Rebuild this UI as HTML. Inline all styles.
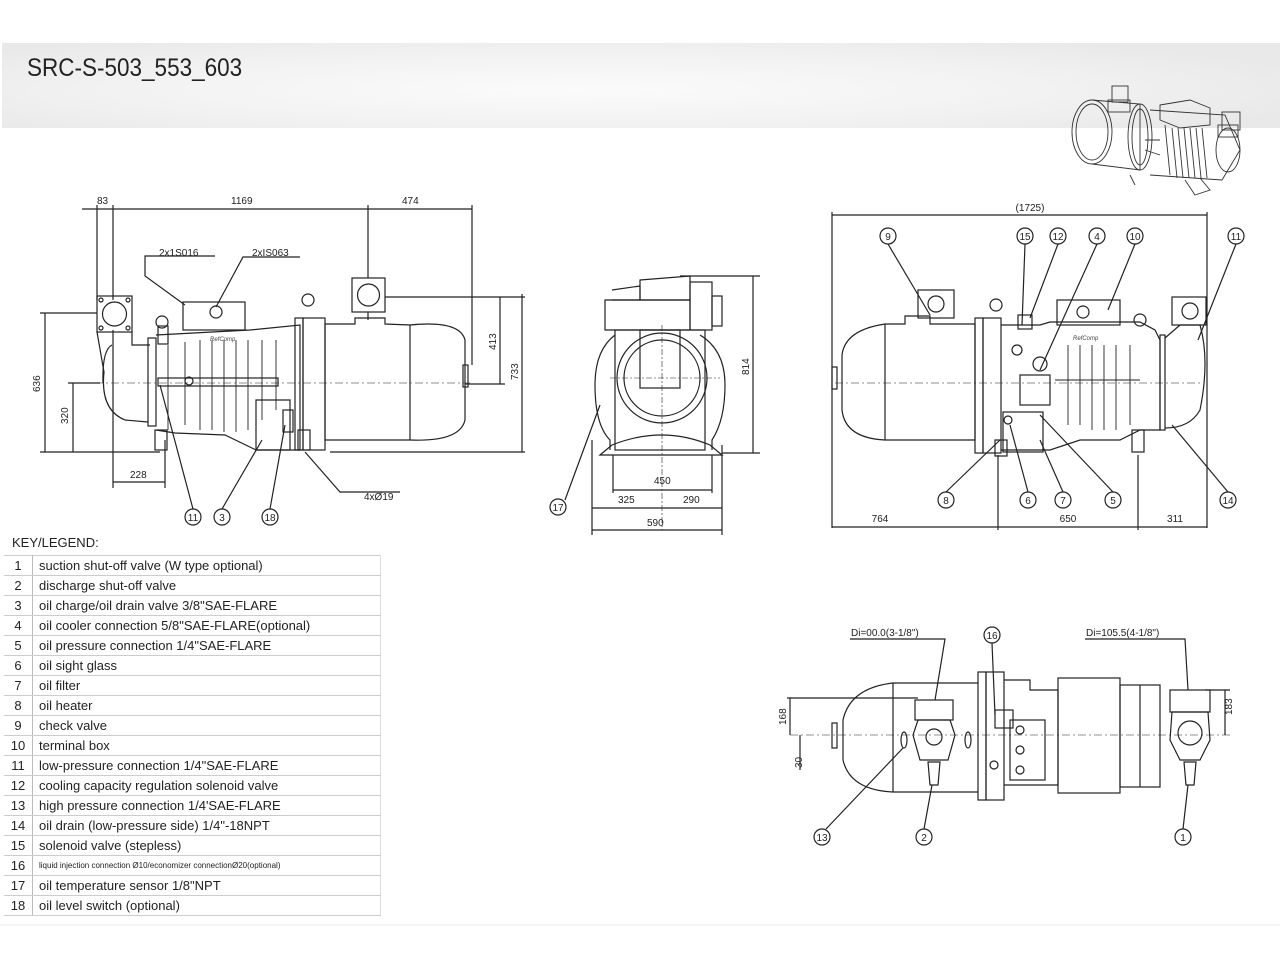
<!DOCTYPE html>
<html><head><meta charset="utf-8"><style>
html,body{margin:0;padding:0;background:#fff;}
body{width:1280px;height:960px;overflow:hidden;position:relative;font-family:"Liberation Sans",sans-serif;}
.band{position:absolute;left:2px;top:43px;width:1278px;height:85px;background:radial-gradient(ellipse 60% 70% at 45% 55%,#fbfbfb 0%,#f2f2f2 60%,#e9e9e9 100%);}
.title{position:absolute;left:27px;top:54px;font-size:25px;color:#222;font-family:"Liberation Sans Narrow","Liberation Sans",sans-serif;transform:scaleX(0.9);transform-origin:left;}
svg{position:absolute;left:0;top:0;}
.legend{position:absolute;left:4px;top:533px;}
.legend .hd{font-size:13px;color:#222;margin-left:8px;height:22px;line-height:20px;}
table{border-collapse:collapse;font-size:13px;color:#222;}
td{border-top:1px solid #ccc;border-bottom:1px solid #ccc;height:19px;padding:0;line-height:19px;}
td.n{width:28px;text-align:center;border-right:1px solid #bbb;}
td.t{width:341px;padding-left:6px;border-right:1px solid #ddd;}
</style></head><body>
<div class="band"></div>
<div class="title">SRC-S-503_553_603</div>

<svg width="1280" height="960" viewBox="0 0 1280 960" font-family="Liberation Sans, sans-serif" font-size="10" fill="none" stroke="#222" stroke-width="1.2">
<!-- photo top right -->
<g stroke="#333" stroke-width="0.9">
<ellipse cx="1092" cy="132" rx="20" ry="32"/>
<ellipse cx="1092" cy="132" rx="16" ry="28"/>
<path d="M1092 100 L1140 104 L1140 170 L1092 164"/>
<ellipse cx="1140" cy="137" rx="12" ry="33"/>
<ellipse cx="1140" cy="137" rx="8" ry="28"/>
<path d="M1150 110 L1225 115 L1240 150 L1222 180 L1150 175"/>
<path d="M1160 105 L1190 100 L1210 108 L1210 125 L1180 128 L1160 120 Z"/>
<path d="M1165 125 L1170 175 M1172 128 L1177 178 M1178 128 L1183 178 M1184 128 L1189 178 M1190 128 L1195 178 M1196 128 L1201 178 M1202 128 L1207 178"/>
<ellipse cx="1228" cy="150" rx="12" ry="22"/>
<rect x="1112" y="86" width="16" height="16"/><rect x="1108" y="100" width="22" height="12"/>
<rect x="1222" y="112" width="18" height="18"/><rect x="1218" y="125" width="20" height="12"/>
<path d="M1185 180 L1195 195 L1210 190 L1200 178 M1130 175 L1135 185 M1145 140 L1160 140 M1145 150 L1160 155"/>
</g>

<!-- ===== VIEW 1 ===== -->
<g>
<line x1="82" y1="209" x2="472" y2="209"/>
<line x1="97" y1="205" x2="97" y2="300"/><line x1="113" y1="205" x2="113" y2="300"/>
<line x1="368" y1="205" x2="368" y2="278"/><line x1="472" y1="205" x2="472" y2="365"/>
<line x1="113" y1="330" x2="113" y2="488"/>
<line x1="165" y1="440" x2="165" y2="488"/><line x1="113" y1="482" x2="165" y2="482"/>
<line x1="45" y1="313" x2="45" y2="452"/><line x1="40" y1="313" x2="97" y2="313"/>
<line x1="40" y1="452" x2="160" y2="452"/>
<line x1="73" y1="383" x2="73" y2="452"/><line x1="68" y1="383" x2="100" y2="383"/>
<line x1="500" y1="297" x2="500" y2="384"/><line x1="522" y1="294" x2="522" y2="452"/>
<line x1="385" y1="297" x2="525" y2="297"/><line x1="465" y1="384" x2="505" y2="384"/>
<line x1="330" y1="452" x2="525" y2="452"/>
<line x1="95" y1="383" x2="470" y2="383" stroke-dasharray="8 3 2 3" stroke-width="0.6"/>
<rect x="97" y="296" width="35" height="36"/><circle cx="114.5" cy="314" r="12"/>
<circle cx="101" cy="300" r="2"/><circle cx="128" cy="300" r="2"/><circle cx="101" cy="328" r="2"/><circle cx="128" cy="328" r="2"/>
<path d="M97 332 L104 372 Q100 410 125 420 L148 422"/>
<path d="M132 332 L132 345 L150 345"/>
<path d="M112 345 Q102 350 103 383"/>
<rect x="148" y="338" width="8" height="88"/>
<path d="M156 335 L250 330 L300 325 L300 450 L256 450 L225 435 L175 433 L156 430"/>
<g stroke-width="0.9">
<line x1="185" y1="342" x2="185" y2="425"/><line x1="200" y1="340" x2="200" y2="430"/><line x1="212" y1="340" x2="212" y2="430"/><line x1="224" y1="340" x2="224" y2="432"/><line x1="236" y1="340" x2="236" y2="432"/><line x1="248" y1="340" x2="248" y2="430"/><line x1="262" y1="340" x2="262" y2="420"/><line x1="276" y1="340" x2="276" y2="410"/>
<line x1="168" y1="345" x2="168" y2="430"/>
</g>
<rect x="158" y="378" width="120" height="8"/><circle cx="189" cy="381" r="4"/>
<rect x="183" y="302" width="62" height="28"/><circle cx="216" cy="312" r="6"/>
<text x="210" y="341" font-size="6" fill="#444" stroke="none" font-style="italic">RefComp</text>
<circle cx="162" cy="322" r="6"/><circle cx="308" cy="300" r="6"/>
<rect x="158" y="326" width="10" height="18"/>
<rect x="155" y="430" width="12" height="20"/>
<path d="M256 400 L290 400 L290 450 L256 450 Z"/><rect x="283" y="410" width="10" height="22"/>
<rect x="295" y="318" width="8" height="132"/><rect x="303" y="318" width="22" height="132"/>
<rect x="298" y="430" width="12" height="20"/>
<path d="M325 324 L355 324 L355 318 L385 318 L385 324 L410 325 Q460 320 465 340 L465 420 Q460 442 410 440 L325 440 Z"/>
<line x1="410" y1="325" x2="410" y2="440"/>
<rect x="463" y="365" width="5" height="22"/>
<rect x="352" y="278" width="33" height="34"/><circle cx="368.5" cy="295" r="11"/>
<line x1="368" y1="312" x2="368" y2="320"/>
<g fill="#222" stroke="none" font-size="10">
<text x="97" y="204">83</text><text x="231" y="204">1169</text><text x="402" y="204">474</text>
<text x="130" y="478">228</text>
<text x="159" y="256">2x1S016</text><text x="252" y="256">2xIS063</text>
<text x="364" y="500">4xØ19</text>
<text transform="translate(40,392) rotate(-90)">636</text>
<text transform="translate(68,424) rotate(-90)">320</text>
<text transform="translate(496,350) rotate(-90)">413</text>
<text transform="translate(518,380) rotate(-90)">733</text>
</g>
<path d="M215 256 L145 256 L145 276 L185 305"/>
<path d="M300 257 L243 257 L216 307"/>
<path d="M160 385 L193 509"/><path d="M262 440 L222 509"/><path d="M285 425 L270 509"/>
<path d="M305 452 L340 492 L400 492"/>
<circle cx="193" cy="517" r="8"/><circle cx="222" cy="517" r="8"/><circle cx="270" cy="517" r="8"/>
<g fill="#222" stroke="none" font-size="10" text-anchor="middle">
<text x="193" y="521">11</text><text x="222" y="521">3</text><text x="270" y="521">18</text></g>
</g>

<!-- ===== VIEW 2 ===== -->
<g>
<path d="M615 335 Q595 350 595 385 Q595 425 610 440 L610 450 M700 335 Q725 350 725 385 Q725 420 712 440 L712 450"/>
<rect x="615" y="330" width="90" height="120"/>
<circle cx="662" cy="378" r="45"/><circle cx="662" cy="378" r="38"/>
<path d="M600 455 L612 445 Q662 425 710 445 L722 455 Z"/>
<rect x="640" y="330" width="40" height="58"/>
<path d="M605 300 L690 300 L690 330 L605 330 Z"/><path d="M640 280 L690 276 L690 300 L640 300 Z"/>
<rect x="690" y="282" width="22" height="48"/><rect x="712" y="296" width="10" height="30"/>
<path d="M612 290 L640 286 L640 300 L612 300"/>
<line x1="662" y1="325" x2="662" y2="530" stroke-dasharray="6 2 2 2" stroke-width="0.6"/>
<line x1="610" y1="378" x2="720" y2="378" stroke-dasharray="6 2 2 2" stroke-width="0.6"/>
<line x1="680" y1="276" x2="760" y2="276"/><line x1="722" y1="453" x2="760" y2="453"/>
<line x1="753" y1="276" x2="753" y2="453"/>
<line x1="613" y1="455" x2="613" y2="493"/><line x1="712" y1="455" x2="712" y2="493"/>
<line x1="613" y1="490" x2="712" y2="490"/>
<line x1="592" y1="440" x2="592" y2="535"/><line x1="722" y1="445" x2="722" y2="535"/>
<line x1="592" y1="508" x2="722" y2="508"/><line x1="592" y1="530" x2="722" y2="530"/>
<path d="M600 405 L565 500"/><circle cx="558" cy="507" r="8"/>
<g fill="#222" stroke="none" font-size="10">
<text x="654" y="484">450</text><text x="618" y="503">325</text><text x="683" y="503">290</text><text x="647" y="526">590</text>
<text transform="translate(749,375) rotate(-90)">814</text>
<text x="558" y="511" text-anchor="middle">17</text></g>
</g>

<!-- ===== VIEW 3 ===== -->
<g>
<line x1="832" y1="215" x2="1207" y2="215"/>
<line x1="832" y1="212" x2="832" y2="528"/><line x1="1207" y1="212" x2="1207" y2="528"/>
<line x1="832" y1="527" x2="1207" y2="527"/>
<line x1="998" y1="455" x2="998" y2="530"/><line x1="1138" y1="455" x2="1138" y2="530"/>
<line x1="835" y1="383" x2="1200" y2="383" stroke-dasharray="8 3 2 3" stroke-width="0.6"/>
<path d="M975 324 L930 324 L930 316 L905 316 L905 324 L885 324 Q845 330 842 355 L842 410 Q845 438 885 440 L975 440 Z"/>
<line x1="885" y1="324" x2="885" y2="440"/>
<rect x="832" y="367" width="5" height="22"/>
<rect x="918" y="290" width="36" height="28"/><circle cx="936" cy="304" r="8"/>
<rect x="975" y="318" width="8" height="135"/><rect x="983" y="318" width="18" height="135"/>
<circle cx="996" cy="305" r="6"/>
<rect x="995" y="440" width="12" height="16"/>
<path d="M1001 325 L1040 325 L1050 322 L1140 322 L1155 330 L1160 340 L1160 430 L1140 430 L1120 440 L1080 440 L1050 450 L1001 450"/>
<rect x="1057" y="300" width="63" height="25"/><circle cx="1083" cy="312" r="6"/>
<text x="1073" y="340" font-size="6" fill="#444" stroke="none" font-style="italic">RefComp</text>
<g stroke-width="0.9"><line x1="1068" y1="345" x2="1068" y2="425"/><line x1="1080" y1="345" x2="1080" y2="425"/><line x1="1092" y1="345" x2="1092" y2="430"/><line x1="1104" y1="345" x2="1104" y2="430"/><line x1="1116" y1="345" x2="1116" y2="430"/><line x1="1130" y1="345" x2="1130" y2="425"/><line x1="1055" y1="380" x2="1140" y2="380"/></g>
<rect x="1020" y="375" width="30" height="30"/><rect x="1003" y="412" width="40" height="40"/>
<circle cx="1008" cy="420" r="4"/><circle cx="1040" cy="364" r="7"/><circle cx="1017" cy="350" r="5"/>
<rect x="1018" y="315" width="14" height="14"/>
<circle cx="1140" cy="320" r="6"/>
<rect x="1160" y="335" width="5" height="95"/>
<path d="M1165 338 L1180 325 L1200 325 Q1210 360 1200 410 Q1190 428 1165 428"/>
<rect x="1172" y="297" width="34" height="28"/><circle cx="1190" cy="311" r="8"/>
<rect x="1132" y="430" width="12" height="22"/>
<g>
<circle cx="888" cy="236" r="8"/><circle cx="1025" cy="236" r="8"/><circle cx="1058" cy="236" r="8"/><circle cx="1097" cy="236" r="8"/><circle cx="1135" cy="236" r="8"/><circle cx="1236" cy="236" r="8"/>
<circle cx="946" cy="500" r="8"/><circle cx="1028" cy="500" r="8"/><circle cx="1063" cy="500" r="8"/><circle cx="1113" cy="500" r="8"/><circle cx="1228" cy="500" r="8"/>
<path d="M888 244 L930 315"/><path d="M1025 244 L1022 325"/><path d="M1058 244 L1030 318"/><path d="M1097 244 L1040 370"/><path d="M1135 244 L1108 310"/><path d="M1236 244 L1198 340"/>
<path d="M946 492 L1000 440"/><path d="M1028 492 L1010 425"/><path d="M1063 492 L1040 440"/><path d="M1113 492 L1040 415"/><path d="M1228 492 L1172 425"/>
</g>
<g fill="#222" stroke="none" font-size="10" text-anchor="middle">
<text x="1030" y="211">(1725)</text><text x="880" y="522">764</text><text x="1068" y="522">650</text><text x="1175" y="522">311</text>
<text x="888" y="240">9</text><text x="1025" y="240">15</text><text x="1058" y="240">12</text><text x="1097" y="240">4</text><text x="1135" y="240">10</text><text x="1236" y="240">11</text>
<text x="946" y="504">8</text><text x="1028" y="504">6</text><text x="1063" y="504">7</text><text x="1113" y="504">5</text><text x="1228" y="504">14</text>
</g>
</g>

<!-- ===== VIEW 4 ===== -->
<g>
<path d="M978 683 L893 683 Q850 688 843 720 L843 760 Q850 790 893 792 L978 792"/>
<line x1="893" y1="683" x2="893" y2="792"/>
<rect x="832" y="723" width="5" height="25"/>
<rect x="978" y="672" width="8" height="128"/><rect x="986" y="672" width="18" height="128"/>
<path d="M1004 680 L1030 680 L1030 690 L1058 690 L1058 785 L1004 785"/>
<rect x="1058" y="678" width="62" height="115"/>
<rect x="1120" y="685" width="40" height="102"/><line x1="1140" y1="685" x2="1140" y2="787"/>
<rect x="915" y="700" width="38" height="20"/><path d="M918 720 L950 720 L955 735 L948 760 L920 760 L913 735 Z"/><circle cx="934" cy="737" r="8"/>
<path d="M928 762 L940 762 L938 785 L930 785 Z"/>
<rect x="1170" y="690" width="40" height="22"/><path d="M1172 712 L1208 712 L1210 740 L1200 760 L1180 760 L1170 740 Z"/><circle cx="1190" cy="733" r="12"/>
<path d="M1184 762 L1196 762 L1194 785 L1186 785 Z"/>
<ellipse cx="904" cy="740" rx="3" ry="8"/><ellipse cx="968" cy="740" rx="3" ry="8"/>
<rect x="1010" y="720" width="35" height="60"/><circle cx="1020" cy="730" r="4"/><circle cx="1020" cy="750" r="4"/><circle cx="1020" cy="770" r="4"/>
<rect x="995" y="710" width="18" height="18"/><circle cx="994" cy="765" r="4"/>
<line x1="790" y1="735" x2="1230" y2="735" stroke-dasharray="8 3 2 3" stroke-width="0.6"/>
<line x1="787" y1="698" x2="918" y2="698"/><line x1="790" y1="698" x2="790" y2="735"/>
<line x1="800" y1="735" x2="800" y2="770"/>
<line x1="1205" y1="690" x2="1230" y2="690"/><line x1="1225" y1="690" x2="1225" y2="735"/>
<path d="M850 639 L945 639 L935 700"/><path d="M1085 639 L1185 639 L1188 690"/>
<circle cx="992" cy="635" r="8"/><path d="M992 643 L995 715"/>
<circle cx="822" cy="837" r="8"/><circle cx="924" cy="837" r="8"/><circle cx="1183" cy="837" r="8"/>
<path d="M826 829 L903 748"/><path d="M924 829 L932 785"/><path d="M1183 829 L1188 785"/>
<g fill="#222" stroke="none" font-size="10">
<text x="851" y="636">Di=00.0(3-1/8")</text><text x="1086" y="636">Di=105.5(4-1/8")</text>
<text x="992" y="639" text-anchor="middle">16</text>
<text x="822" y="841" text-anchor="middle">13</text><text x="924" y="841" text-anchor="middle">2</text><text x="1183" y="841" text-anchor="middle">1</text>
<text transform="translate(786,725) rotate(-90)">168</text>
<text transform="translate(802,768) rotate(-90)">30</text>
<text transform="translate(1232,715) rotate(-90)">183</text>
</g>
</g>
<line x1="0" y1="925" x2="1280" y2="925" stroke="#eee"/>
</svg>

<div class="legend">
<div class="hd">KEY/LEGEND:</div>
<table>
<tr><td class="n">1</td><td class="t">suction shut-off valve (W type optional)</td></tr>
<tr><td class="n">2</td><td class="t">discharge shut-off valve</td></tr>
<tr><td class="n">3</td><td class="t">oil charge/oil drain valve 3/8"SAE-FLARE</td></tr>
<tr><td class="n">4</td><td class="t">oil cooler connection 5/8"SAE-FLARE(optional)</td></tr>
<tr><td class="n">5</td><td class="t">oil pressure connection 1/4"SAE-FLARE</td></tr>
<tr><td class="n">6</td><td class="t">oil sight glass</td></tr>
<tr><td class="n">7</td><td class="t">oil filter</td></tr>
<tr><td class="n">8</td><td class="t">oil heater</td></tr>
<tr><td class="n">9</td><td class="t">check valve</td></tr>
<tr><td class="n">10</td><td class="t">terminal box</td></tr>
<tr><td class="n">11</td><td class="t">low-pressure connection 1/4"SAE-FLARE</td></tr>
<tr><td class="n">12</td><td class="t">cooling capacity regulation solenoid valve</td></tr>
<tr><td class="n">13</td><td class="t">high pressure connection 1/4'SAE-FLARE</td></tr>
<tr><td class="n">14</td><td class="t">oil drain (low-pressure side) 1/4"-18NPT</td></tr>
<tr><td class="n">15</td><td class="t">solenoid valve (stepless)</td></tr>
<tr><td class="n">16</td><td class="t" style="font-size:8px">liquid injection connection Ø10/economizer connectionØ20(optional)</td></tr>
<tr><td class="n">17</td><td class="t">oil temperature sensor 1/8"NPT</td></tr>
<tr><td class="n">18</td><td class="t">oil level switch (optional)</td></tr>
</table>
</div>
</body></html>
